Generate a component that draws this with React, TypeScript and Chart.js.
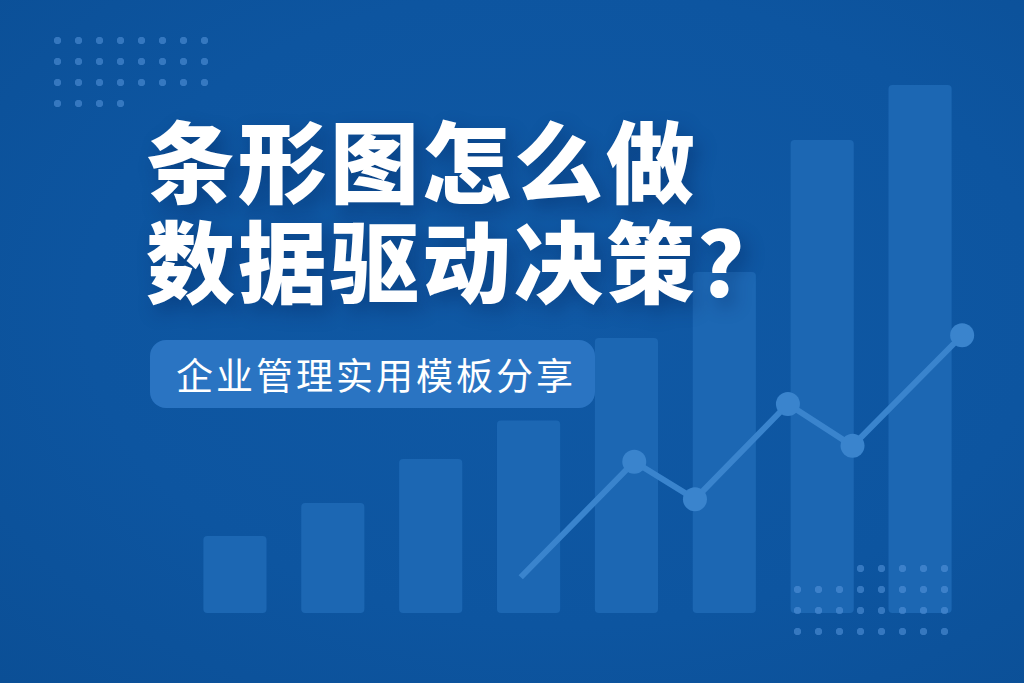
import { useEffect, useRef } from "react"
import { Chart, registerables } from "chart.js"

Chart.register(...registerables)

// bar heights (arbitrary units, 0-100)
const categories = ["1", "2", "3", "4", "5", "6", "7", "8"]
const barValues = [14, 20, 28, 35, 50, 62, 86, 96]

// trend line, x in category units (0-8)
const trendX = [3.42, 4.58, 5.2, 6.15, 6.81, 7.93]
const trendY = [6.5, 27.5, 20.7, 38, 30.4, 50.5]

const titleLines = ["条形图怎么做", "数据驱动决策？"]
const subtitle = "企业管理实用模板分享"

const BG = "#0d55a0"
const BAR = "#1c67b3"
const LINE = "#3a84cd"
const DOT = "rgba(88,150,220,0.55)"

const dots = (w: number, h: number, left: number, top: number) => ({
  position: "absolute" as const,
  left,
  top,
  width: w,
  height: h,
  backgroundImage: `radial-gradient(circle, ${DOT} 3.4px, transparent 4px)`,
  backgroundSize: "21px 21px",
})

export default function App() {
  const canvasRef = useRef<HTMLCanvasElement>(null)
  const chartRef = useRef<Chart | null>(null)

  useEffect(() => {
    if (!canvasRef.current) return
    if (chartRef.current) chartRef.current.destroy()

    chartRef.current = new Chart(canvasRef.current, {
      type: "bar",
      data: {
        labels: categories,
        datasets: [
          {
            type: "line",
            data: trendX.map((x, i) => ({ x, y: trendY[i] })),
            xAxisID: "x2",
            borderColor: LINE,
            borderWidth: 6,
            pointRadius: [0, 12, 12, 12, 12, 12],
            pointBackgroundColor: LINE,
            pointBorderWidth: 0,
            tension: 0,
            clip: false,
            order: 0,
          } as any,
          {
            type: "bar",
            data: barValues,
            backgroundColor: BAR,
            borderRadius: 4,
            borderSkipped: false,
            grouped: false,
            categoryPercentage: 1,
            barPercentage: 0.645,
            order: 1,
          },
        ],
      },
      options: {
        animation: false,
        responsive: false,
        maintainAspectRatio: false,
        layout: { padding: { left: 186, right: 55, top: 63, bottom: 70 } },
        plugins: { legend: { display: false }, tooltip: { enabled: false } },
        scales: {
          x: { display: false, offset: true },
          x2: { type: "linear", display: false, offset: false, min: 0, max: 8 },
          y: { display: false, min: 0, max: 100 },
        },
      },
    })

    return () => {
      chartRef.current?.destroy()
      chartRef.current = null
    }
  }, [])

  return (
    <div
      style={{
        position: "fixed",
        left: 0,
        top: 0,
        width: 1024,
        height: 683,
        overflow: "hidden",
        background: `radial-gradient(ellipse at 55% 45%, #1059a5 0%, ${BG} 60%, #0b4f96 100%)`,
        fontFamily: "'Noto Sans CJK SC', 'Noto Sans', sans-serif",
      }}
    >
      <canvas ref={canvasRef} width={1024} height={683} style={{ position: "absolute", left: 0, top: 0 }} />
      <div style={dots(168, 63, 46.5, 29.5)} />
      <div style={dots(84, 21, 46.5, 92.5)} />
      <div style={dots(168, 63, 786.5, 578.5)} />
      <div style={dots(105, 21, 849.5, 557.5)} />
      <div
        style={{
          position: "absolute",
          left: 146,
          top: 108,
          color: "#fff",
          fontWeight: 900,
          fontSize: 89,
          lineHeight: "100px",
          letterSpacing: 3,
          whiteSpace: "nowrap",
          textShadow: "6px 8px 18px rgba(0,30,80,0.35)",
        }}
      >
        {titleLines.map((t) => (
          <div key={t}>{t}</div>
        ))}
      </div>
      <div
        style={{
          position: "absolute",
          left: 150,
          top: 340,
          width: 445,
          height: 68,
          borderRadius: 16,
          background: "#2a74c2",
          color: "#fff",
          fontSize: 37,
          letterSpacing: 3,
          lineHeight: "68px",
          paddingLeft: 26,
          boxSizing: "border-box",
          whiteSpace: "nowrap",
        }}
      >
        {subtitle}
      </div>
    </div>
  )
}
